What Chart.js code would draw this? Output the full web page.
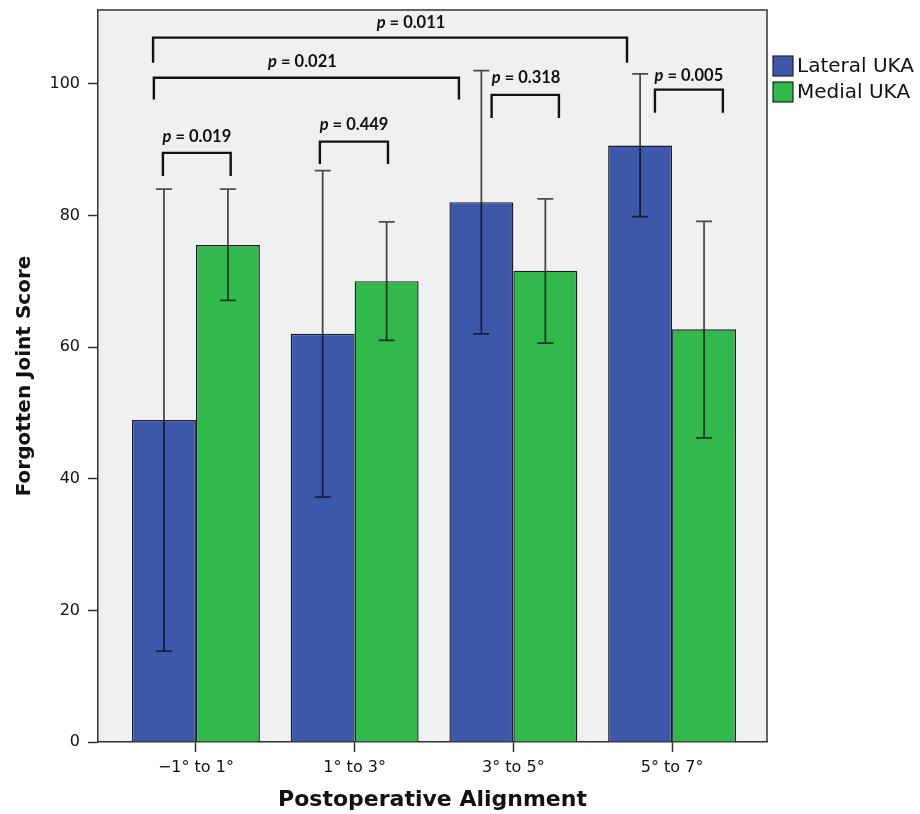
<!DOCTYPE html>
<html>
<head>
<meta charset="utf-8">
<script src="https://cdn.jsdelivr.net/npm/chart.js@4.4.1/dist/chart.umd.min.js"></script>
<style>
  html, body { margin: 0; padding: 0; background: #fff; }
  #wrap { width: 920px; height: 814px; }
</style>
</head>
<body>
<div id="wrap"><canvas id="grafica" width="920" height="814"></canvas></div>
<script>
// categorias del eje X
const categorias = ['\u22121° to 1°', '1° to 3°', '3° to 5°', '5° to 7°'];
const series = ['Lateral UKA', 'Medial UKA'];

// medias y extremos de las barras de error
const lateralMedia = [48.9, 62.0, 82.0, 90.6];
const lateralBajo  = [13.8, 37.2, 62.0, 79.8];
const lateralAlto  = [84.0, 86.8, 102.0, 101.5];
const medialMedia  = [75.5, 70.0, 71.6, 62.7];
const medialBajo   = [67.1, 61.0, 60.6, 46.2];
const medialAlto   = [84.0, 79.0, 82.5, 79.1];

const ticksY = [0, 20, 40, 60, 80, 100];

// comparaciones (x en unidades de categoria, y en puntos)
const comparaciones = [
    { x1: -0.27, x2: 2.716, y: 107.0, pie: 103.2, texto: '0.011', tx: 1.355, ty: 109.3 },
    { x1: -0.265, x2: 1.657, y: 100.9, pie: 97.6, texto: '0.021', tx: 0.671, ty: 103.3 },
    { x1: -0.208, x2: 0.219, y: 89.5, pie: 86.0, texto: '0.019', tx: 0.006, ty: 91.9 },
    { x1: 0.781, x2: 1.21, y: 91.2, pie: 87.8, texto: '0.449', tx: 0.996, ty: 93.8 },
    { x1: 1.863, x2: 2.287, y: 98.3, pie: 94.8, texto: '0.318', tx: 2.08, ty: 100.9 },
    { x1: 2.892, x2: 3.32, y: 99.1, pie: 95.6, texto: '0.005', tx: 3.106, ty: 101.2 }
];

const colores = ['#3D57A9', '#31B94B'];

function puntos(valores) {
    return valores.map((v, i) => ({ x: i, y: v }));
}

const pluginFondo = {
    id: 'fondo',
    beforeDraw(chart) {
        const { ctx, chartArea: a } = chart;
        ctx.save();
        ctx.fillStyle = '#F0F0F0';
        ctx.fillRect(a.left, a.top, a.right - a.left, a.bottom - a.top);
        ctx.restore();
    },
    afterDraw(chart) {
        const { ctx, chartArea: a } = chart;
        const sx = chart.scales.x, sy = chart.scales.y;
        ctx.save();
        // marco superior y derecho
        ctx.strokeStyle = '#333';
        ctx.lineWidth = 1.5;
        ctx.beginPath();
        ctx.moveTo(a.left, a.top);
        ctx.lineTo(a.right, a.top);
        ctx.lineTo(a.right, a.bottom);
        ctx.stroke();

        // barras de error
        const bajos = [lateralBajo, medialBajo];
        const altos = [lateralAlto, medialAlto];
        for (let d = 0; d < 2; d++) {
            const meta = chart.getDatasetMeta(d);
            meta.data.forEach((bar, i) => {
                const x = bar.x;
                const y1 = sy.getPixelForValue(bajos[d][i]);
                const y2 = sy.getPixelForValue(altos[d][i]);
                ctx.strokeStyle = 'rgba(10,10,20,0.72)';
                ctx.lineWidth = 1.8;
                ctx.beginPath();
                ctx.moveTo(x, y1); ctx.lineTo(x, y2);
                ctx.moveTo(x - 8, y1); ctx.lineTo(x + 8, y1);
                ctx.moveTo(x - 8, y2); ctx.lineTo(x + 8, y2);
                ctx.stroke();
            });
        }

        // corchetes con valores p
        comparaciones.forEach(c => {
            const xa = sx.getPixelForValue(c.x1), xb = sx.getPixelForValue(c.x2);
            const yy = sy.getPixelForValue(c.y), yp = sy.getPixelForValue(c.pie);
            ctx.strokeStyle = '#111';
            ctx.lineWidth = 2.4;
            ctx.beginPath();
            ctx.moveTo(xa, yp); ctx.lineTo(xa, yy); ctx.lineTo(xb, yy); ctx.lineTo(xb, yp);
            ctx.stroke();

            const fp = 'italic bold 16.5px Lato';
            const fr = 'bold 16.5px Lato';
            const resto = ' = ' + c.texto;
            ctx.font = fp; const wp = ctx.measureText('p').width;
            ctx.font = fr; const wr = ctx.measureText(resto).width;
            const cx = sx.getPixelForValue(c.tx), cy = sy.getPixelForValue(c.ty);
            const x0 = cx - (wp + wr) / 2;
            ctx.fillStyle = '#111';
            ctx.textBaseline = 'middle';
            ctx.textAlign = 'left';
            ctx.font = fp; ctx.fillText('p', x0, cy);
            ctx.font = fr; ctx.fillText(resto, x0 + wp, cy);
        });

        // leyenda
        ctx.font = '20px "DejaVu Sans"';
        ctx.textBaseline = 'middle';
        ctx.textAlign = 'left';
        series.forEach((s, i) => {
            const bx = a.right + 6, by = a.top + 46 + i * 26;
            ctx.fillStyle = colores[i];
            ctx.fillRect(bx, by, 20, 20);
            ctx.strokeStyle = '#222';
            ctx.lineWidth = 1.2;
            ctx.strokeRect(bx, by, 20, 20);
            ctx.fillStyle = '#111';
            ctx.fillText(s, bx + 24, by + 11);
        });
        ctx.restore();
    }
};

let miGrafica = null;

function inicializarGrafica() {
    const canvas = document.getElementById('grafica');
    const ctx = canvas.getContext('2d');
    if (miGrafica) miGrafica.destroy();

    miGrafica = new Chart(ctx, {
        type: 'bar',
        data: {
            datasets: [{
                label: series[0],
                data: puntos(lateralMedia),
                backgroundColor: colores[0],
                borderColor: 'rgba(5,5,20,0.9)',
                borderWidth: 1.4
            }, {
                label: series[1],
                data: puntos(medialMedia),
                backgroundColor: colores[1],
                borderColor: 'rgba(5,5,20,0.9)',
                borderWidth: 1.4
            }]
        },
        options: {
            responsive: false,
            devicePixelRatio: 1,
            animation: false,
            categoryPercentage: 0.806,
            barPercentage: 1,
            layout: { padding: { top: 10, right: 153, left: 0, bottom: 0 } },
            plugins: { legend: { display: false }, tooltip: { enabled: false } },
            scales: {
                x: {
                    type: 'linear',
                    min: -0.617,
                    max: 3.598,
                    offset: false,
                    afterBuildTicks: s => { s.ticks = categorias.map((c, i) => ({ value: i })); },
                    afterFit: s => { s.height = 72; s.paddingLeft = 0; s.paddingRight = 0; },
                    grid: { offset: false, drawOnChartArea: false, tickLength: 10, tickColor: '#333', tickWidth: 1.5 },
                    border: { display: true, color: '#333', width: 1.5 },
                    ticks: {
                        autoSkip: false, maxRotation: 0, padding: 6, color: '#111',
                        font: { family: 'DejaVu Sans', size: 16 },
                        callback: v => categorias[v]
                    },
                    title: {
                        display: true, text: 'Postoperative Alignment', color: '#111',
                        font: { family: 'DejaVu Sans', size: 22, weight: 'bold' },
                        padding: { top: 0, bottom: 1 }
                    }
                },
                y: {
                    min: 0,
                    max: 111.2,
                    afterBuildTicks: s => { s.ticks = ticksY.map(v => ({ value: v })); },
                    afterFit: s => { s.width = 98; s.paddingTop = 0; s.paddingBottom = 0; },
                    grid: { drawOnChartArea: false, tickLength: 10, tickColor: '#333', tickWidth: 1.5 },
                    border: { display: true, color: '#333', width: 1.5 },
                    ticks: {
                        padding: 8, color: '#111',
                        font: { family: 'DejaVu Sans', size: 16 }
                    },
                    title: {
                        display: true, text: 'Forgotten Joint Score', color: '#111',
                        font: { family: 'DejaVu Sans', size: 20, weight: 'bold' },
                        padding: { top: 13, bottom: 0 }
                    }
                }
            }
        },
        plugins: [pluginFondo]
    });
}

inicializarGrafica();
</script>
</body>
</html>
